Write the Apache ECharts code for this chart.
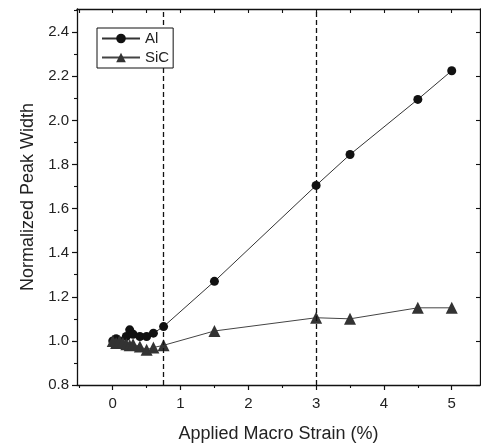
<!DOCTYPE html>
<html>
<head>
<meta charset="utf-8">
<script src="https://cdn.jsdelivr.net/npm/echarts@6/dist/echarts.min.js"></script>
<style>
html, body { margin: 0; padding: 0; background: #fff; }
#chart { width: 481px; height: 448px; }
</style>
</head>
<body>
<div id="chart"></div>
<script>
// data
var alStrain = [0, 0.05, 0.1, 0.2, 0.25, 0.3, 0.4, 0.5, 0.6, 0.75, 1.5, 3, 3.5, 4.5, 5];
var alWidth = [1.0, 1.01, 1.0, 1.02, 1.05, 1.03, 1.02, 1.02, 1.035, 1.065, 1.27, 1.705, 1.845, 2.095, 2.225];
var sicStrain = [0, 0.05, 0.1, 0.15, 0.2, 0.25, 0.3, 0.4, 0.5, 0.6, 0.75, 1.5, 3, 3.5, 4.5, 5];
var sicWidth = [1.0, 0.99, 1.0, 0.99, 0.985, 0.98, 0.985, 0.975, 0.96, 0.97, 0.98, 1.045, 1.105, 1.1, 1.15, 1.15];
var refLines = [0.75, 3];
var xTicks = [0, 1, 2, 3, 4, 5];
var xMinorTicks = [-0.5, 0.5, 1.5, 2.5, 3.5, 4.5];
var xTopTicks = [-0.5, 0, 0.5, 1, 1.5, 2, 2.5, 3, 3.5, 4, 4.5, 5];
var yTicks = [0.8, 1.0, 1.2, 1.4, 1.6, 1.8, 2.0, 2.2, 2.4];
var yMinorTicks = [0.9, 1.1, 1.3, 1.5, 1.7, 1.9, 2.1, 2.3, 2.5];

var XMIN = -0.527, XMAX = 5.417, YMIN = 0.8, YMAX = 2.505;
var FONT = '"Liberation Sans", Arial, sans-serif';

function pairs(xs, ys) {
  var out = [];
  for (var i = 0; i < xs.length; i++) out.push([xs[i], ys[i]]);
  return out;
}

var chart = echarts.init(document.getElementById('chart'));
var axisLine = { show: true, onZero: false, lineStyle: { color: '#111', width: 1.3 } };
var noLine = { show: false, onZero: false };

chart.setOption({
  animation: false,
  textStyle: { fontFamily: FONT },
  grid: { left: 77, right: 1, top: 9, bottom: 61 },
  legend: {
    left: 97, top: 28, z: 20,
    orient: 'vertical',
    itemWidth: 38, itemHeight: 12, itemGap: 4,
    padding: [3, 4, 3, 4],
    borderColor: '#111', borderWidth: 1,
    backgroundColor: '#fff',
    textStyle: { fontSize: 15, color: '#222', fontFamily: FONT },
    data: ['Al', 'SiC']
  },
  xAxis: [
    {
      type: 'value', position: 'bottom', min: XMIN, max: XMAX,
      name: 'Applied Macro Strain (%)', nameLocation: 'middle', nameGap: 40,
      nameTextStyle: { fontSize: 18, color: '#222', fontFamily: FONT },
      axisLine: axisLine,
      axisTick: { show: true, length: 5, customValues: xTicks, lineStyle: { color: '#111', width: 1.2 } },
      axisLabel: { customValues: xTicks, margin: 11, fontSize: 15, color: '#222', fontFamily: FONT },
      splitLine: { show: false }
    },
    {
      type: 'value', position: 'bottom', min: XMIN, max: XMAX,
      axisLine: noLine,
      axisTick: { show: true, length: 3, customValues: xMinorTicks, lineStyle: { color: '#111', width: 1.1 } },
      axisLabel: { show: false },
      splitLine: { show: false }
    },
    {
      type: 'value', position: 'top', min: XMIN, max: XMAX,
      axisLine: axisLine,
      axisTick: { show: true, inside: true, length: 4, customValues: xTopTicks, lineStyle: { color: '#111', width: 1.1 } },
      axisLabel: { show: false },
      splitLine: { show: false }
    }
  ],
  yAxis: [
    {
      type: 'value', position: 'left', min: YMIN, max: YMAX,
      name: 'Normalized Peak Width', nameLocation: 'middle', nameGap: 40,
      nameTextStyle: { fontSize: 18, color: '#222', fontFamily: FONT },
      axisLine: axisLine,
      axisTick: { show: true, length: 5, customValues: yTicks, lineStyle: { color: '#111', width: 1.2 } },
      axisLabel: {
        customValues: yTicks, margin: 8, fontSize: 15, color: '#222', fontFamily: FONT,
        formatter: function (v) { return v.toFixed(1); }
      },
      splitLine: { show: false }
    },
    {
      type: 'value', position: 'left', min: YMIN, max: YMAX,
      axisLine: noLine,
      axisTick: { show: true, length: 3, customValues: yMinorTicks, lineStyle: { color: '#111', width: 1.1 } },
      axisLabel: { show: false },
      splitLine: { show: false }
    },
    {
      type: 'value', position: 'right', min: YMIN, max: YMAX,
      axisLine: axisLine,
      axisTick: { show: true, inside: true, length: 4, customValues: yTicks, lineStyle: { color: '#111', width: 1.1 } },
      axisLabel: { show: false },
      splitLine: { show: false }
    }
  ],
  series: [
    {
      name: 'Al', type: 'line',
      data: pairs(alStrain, alWidth),
      symbol: 'circle', symbolSize: 9,
      itemStyle: { color: '#111' },
      lineStyle: { color: '#333', width: 1 },
      markLine: {
        silent: true,
        symbol: ['none', 'none'],
        label: { show: false },
        lineStyle: { color: '#111', type: [5, 3], width: 1.3 },
        data: refLines.map(function (x) { return { xAxis: x }; })
      }
    },
    {
      name: 'SiC', type: 'line',
      data: pairs(sicStrain, sicWidth),
      symbol: 'triangle', symbolSize: 12,
      itemStyle: { color: '#333' },
      lineStyle: { color: '#444', width: 1 }
    }
  ]
});
</script>
</body>
</html>
